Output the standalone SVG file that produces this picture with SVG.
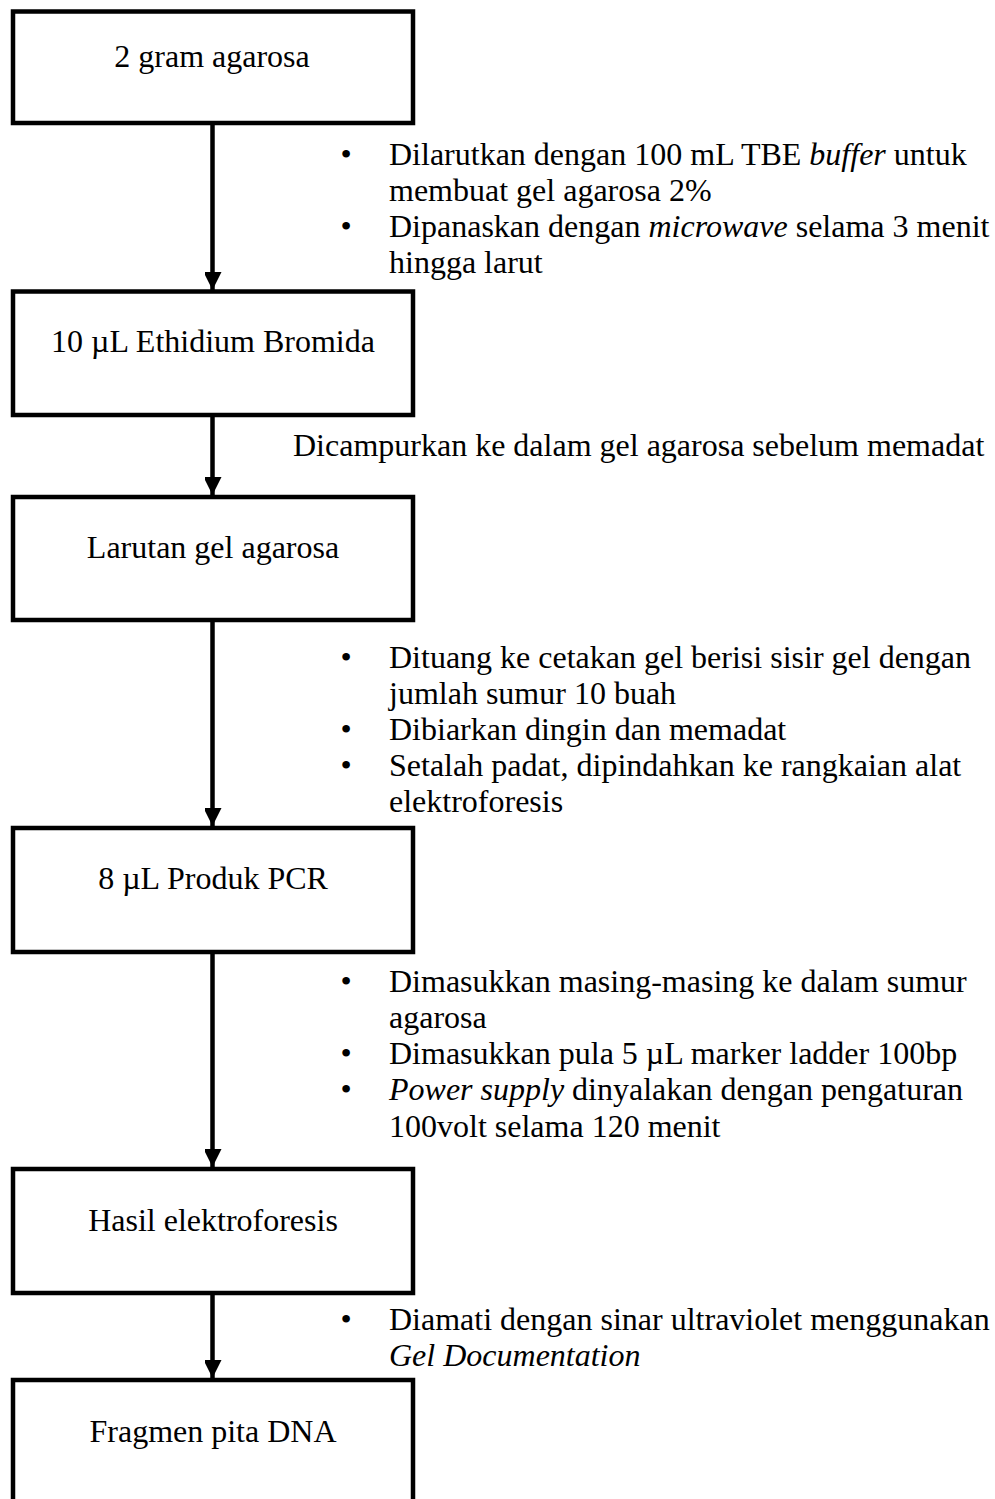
<svg xmlns="http://www.w3.org/2000/svg" width="995" height="1499" viewBox="0 0 995 1499">
  <style>
    .box { fill: #ffffff; stroke: #000000; stroke-width: 4.5; }
    .label { font-family: "Liberation Serif", "Times New Roman", serif; font-size: 32px; fill: #000000; text-anchor: middle; }
    .note { font-family: "Liberation Serif", "Times New Roman", serif; font-size: 32px; fill: #000000; }
    .bullet { text-anchor: middle; }
    .it { font-style: italic; }
    .link { stroke: #000000; stroke-width: 4.5; fill: none; marker-end: url(#head); }
  </style>
  <defs>
    <marker id="head" markerUnits="userSpaceOnUse" viewBox="0 0 18 17" refX="18" refY="9" markerWidth="18" markerHeight="17" orient="auto">
      <path d="M0,0 L18,9 L0,18 Z" fill="#000000"/>
    </marker>
  </defs>

  <!-- flow connectors -->
  <g id="connectors">
    <line class="link" x1="212.5" y1="123" x2="212.5" y2="290"/>
    <line class="link" x1="212.5" y1="415" x2="212.5" y2="495"/>
    <line class="link" x1="212.5" y1="620" x2="212.5" y2="826"/>
    <line class="link" x1="212.5" y1="952" x2="212.5" y2="1167"/>
    <line class="link" x1="212.5" y1="1293" x2="212.5" y2="1378"/>
  </g>

  <!-- process steps -->
  <g id="step-agarosa">
    <rect class="box" x="13" y="11.5" width="400" height="111.5"/>
    <text class="label" x="212" y="67">2 gram agarosa</text>
  </g>
  <g id="step-etbr">
    <rect class="box" x="13" y="291.5" width="400" height="123.5"/>
    <text class="label" x="213" y="352">10 µL Ethidium Bromida</text>
  </g>
  <g id="step-larutan">
    <rect class="box" x="13" y="497" width="400" height="123"/>
    <text class="label" x="213" y="558">Larutan gel agarosa</text>
  </g>
  <g id="step-pcr">
    <rect class="box" x="13" y="828" width="400" height="124"/>
    <text class="label" x="213" y="889">8 µL Produk PCR</text>
  </g>
  <g id="step-hasil">
    <rect class="box" x="13" y="1169" width="400" height="124"/>
    <text class="label" x="213" y="1231">Hasil elektroforesis</text>
  </g>
  <g id="step-fragmen">
    <rect class="box" x="13" y="1380" width="400" height="130"/>
    <text class="label" x="213" y="1442">Fragmen pita DNA</text>
  </g>

  <!-- step notes -->
  <g id="note-1">
    <text class="note bullet" x="346" y="165">•</text>
    <text class="note" x="389" y="165">Dilarutkan dengan 100 mL TBE <tspan class="it">buffer</tspan> untuk</text>
    <text class="note" x="389" y="201">membuat gel agarosa 2%</text>
    <text class="note bullet" x="346" y="237">•</text>
    <text class="note" x="389" y="237">Dipanaskan dengan <tspan class="it">microwave</tspan> selama 3 menit</text>
    <text class="note" x="389" y="273">hingga larut</text>
  </g>
  <g id="note-2">
    <text class="note" x="293" y="456">Dicampurkan ke dalam gel agarosa sebelum memadat</text>
  </g>
  <g id="note-3">
    <text class="note bullet" x="346" y="668">•</text>
    <text class="note" x="389" y="668">Dituang ke cetakan gel berisi sisir gel dengan</text>
    <text class="note" x="389" y="704">jumlah sumur 10 buah</text>
    <text class="note bullet" x="346" y="740">•</text>
    <text class="note" x="389" y="740">Dibiarkan dingin dan memadat</text>
    <text class="note bullet" x="346" y="776">•</text>
    <text class="note" x="389" y="776">Setalah padat, dipindahkan ke rangkaian alat</text>
    <text class="note" x="389" y="812">elektroforesis</text>
  </g>
  <g id="note-4">
    <text class="note bullet" x="346" y="992">•</text>
    <text class="note" x="389" y="992">Dimasukkan masing-masing ke dalam sumur</text>
    <text class="note" x="389" y="1028">agarosa</text>
    <text class="note bullet" x="346" y="1064">•</text>
    <text class="note" x="389" y="1064">Dimasukkan pula 5 µL marker ladder 100bp</text>
    <text class="note bullet" x="346" y="1100">•</text>
    <text class="note" x="389" y="1100"><tspan class="it">Power supply</tspan> dinyalakan dengan pengaturan</text>
    <text class="note" x="389" y="1137">100volt selama 120 menit</text>
  </g>
  <g id="note-5">
    <text class="note bullet" x="346" y="1330">•</text>
    <text class="note" x="389" y="1330">Diamati dengan sinar ultraviolet menggunakan</text>
    <text class="note it" x="389" y="1366">Gel Documentation</text>
  </g>
</svg>
